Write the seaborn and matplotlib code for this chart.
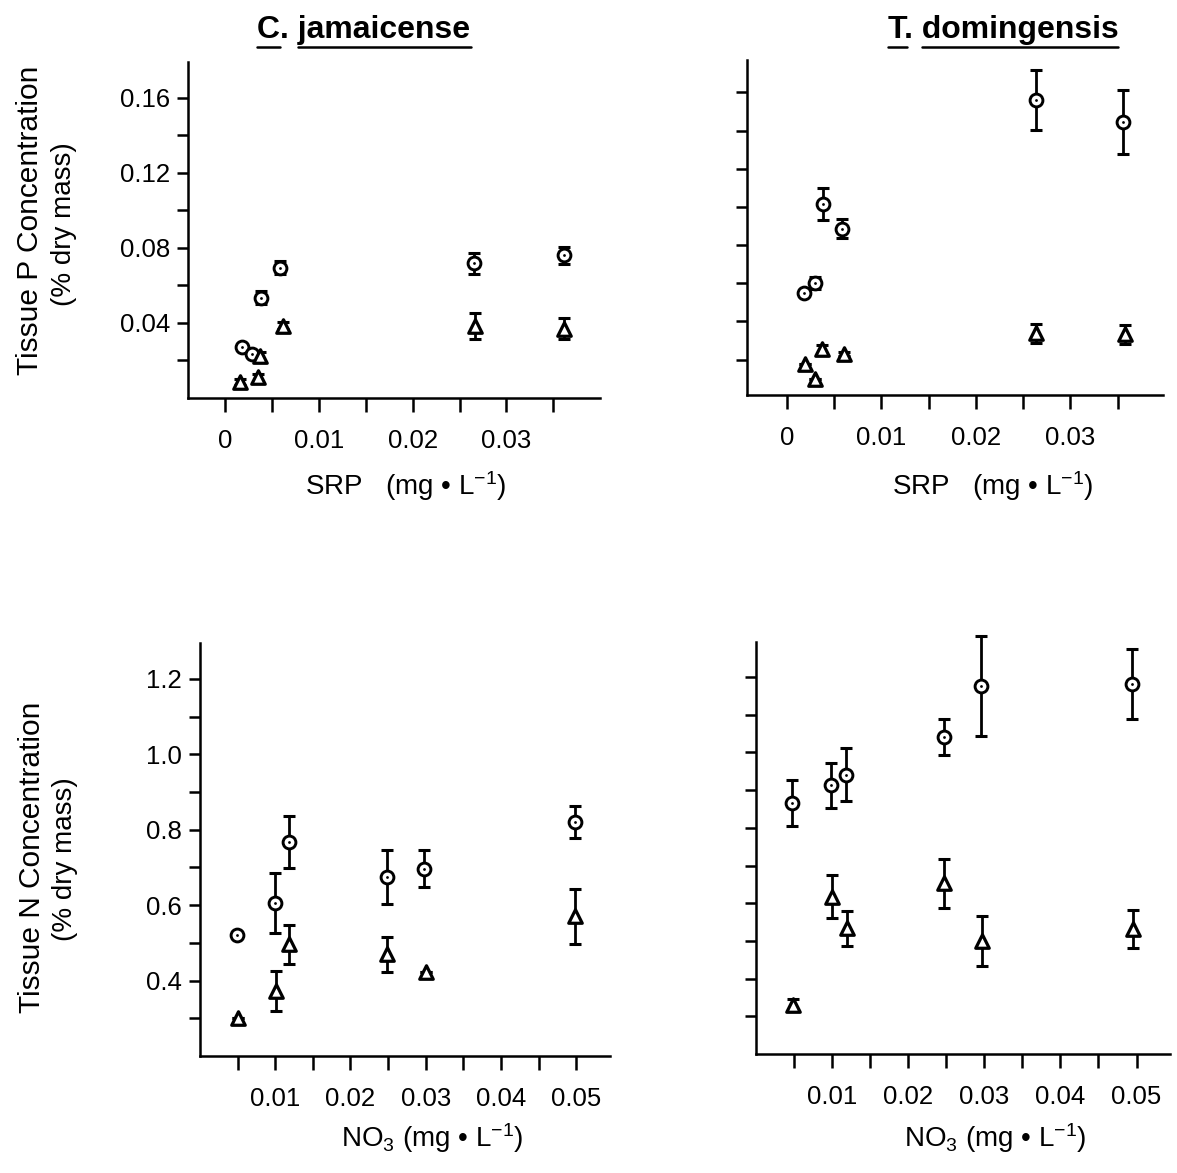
import numpy as np
import matplotlib
matplotlib.use("Agg")
import matplotlib.pyplot as plt
from matplotlib.lines import Line2D
import seaborn as sns

# --- data -----------------------------------------------------------------
# top row: tissue P vs SRP
cj_p_circ_x = [0.0018, 0.0028, 0.0038, 0.0058, 0.0265, 0.0362]
cj_p_circ_y = [0.027, 0.0234, 0.0535, 0.0695, 0.0717, 0.076]
cj_p_circ_e = [0.0, 0.0, 0.0035, 0.0035, 0.0055, 0.0045]
cj_p_tri_x = [0.0016, 0.0035, 0.0037, 0.0061, 0.0267, 0.0362]
cj_p_tri_y = [0.0085, 0.011, 0.0225, 0.0385, 0.0385, 0.037]
cj_p_tri_e = [0.0015, 0.002, 0.002, 0.002, 0.007, 0.0055]

td_p_circ_x = [0.0018, 0.0030, 0.0038, 0.0059, 0.0264, 0.0356]
td_p_circ_y = [0.055, 0.060, 0.1015, 0.0885, 0.156, 0.1445]
td_p_circ_e = [0.0, 0.003, 0.0083, 0.005, 0.0157, 0.0167]
td_p_tri_x = [0.0019, 0.0030, 0.0037, 0.0061, 0.0264, 0.0358]
td_p_tri_y = [0.0176, 0.0097, 0.0255, 0.0228, 0.0337, 0.0333]
td_p_tri_e = [0.0, 0.0, 0.002, 0.001, 0.005, 0.005]

# bottom row: tissue N vs NO3
cj_n_circ_x = [0.0049, 0.0100, 0.0118, 0.0249, 0.0298, 0.0498]
cj_n_circ_y = [0.521, 0.605, 0.767, 0.675, 0.697, 0.820]
cj_n_circ_e = [0.0, 0.079, 0.068, 0.071, 0.048, 0.042]
cj_n_tri_x = [0.0051, 0.0101, 0.0118, 0.0249, 0.0300, 0.0499]
cj_n_tri_y = [0.300, 0.372, 0.496, 0.470, 0.423, 0.571]
cj_n_tri_e = [0.0, 0.054, 0.052, 0.046, 0.0, 0.073]

td_n_circ_x = [0.0047, 0.0098, 0.0118, 0.0247, 0.0296, 0.0494]
td_n_circ_y = [0.866, 0.913, 0.941, 1.041, 1.176, 1.1825]
td_n_circ_e = [0.061, 0.060, 0.071, 0.047, 0.132, 0.093]
td_n_tri_x = [0.0049, 0.00995, 0.0119, 0.0247, 0.0297, 0.0496]
td_n_tri_y = [0.330, 0.617, 0.533, 0.653, 0.500, 0.531]
td_n_tri_e = [0.015, 0.057, 0.046, 0.065, 0.066, 0.050]

srp_ticks = [0, 0.01, 0.02, 0.03]
srp_ticklabels = ["0", "0.01", "0.02", "0.03"]
srp_minor = [0.005, 0.015, 0.025, 0.035]
no3_ticks = [0.01, 0.02, 0.03, 0.04, 0.05]
no3_ticklabels = ["0.01", "0.02", "0.03", "0.04", "0.05"]
no3_minor = [0.005, 0.015, 0.025, 0.035, 0.045]
p_ticks = [0.04, 0.08, 0.12, 0.16]
p_ticklabels = ["0.04", "0.08", "0.12", "0.16"]
p_minor = [0.02, 0.06, 0.10, 0.14]
n_ticks = [0.4, 0.6, 0.8, 1.0, 1.2]
n_ticklabels = ["0.4", "0.6", "0.8", "1.0", "1.2"]
n_minor = [0.3, 0.5, 0.7, 0.9, 1.1]

sns.set_style("ticks")
plt.rcParams["font.family"] = ["Liberation Sans", "DejaVu Sans"]
plt.rcParams["mathtext.fontset"] = "custom"
plt.rcParams["mathtext.rm"] = "Liberation Sans"
plt.rcParams["mathtext.it"] = "Liberation Sans"
plt.rcParams["mathtext.bf"] = "Liberation Sans:bold"
for key in ["text.color", "axes.labelcolor", "xtick.color", "ytick.color",
            "axes.edgecolor"]:
    plt.rcParams[key] = "black"

W, H = 1177, 1173
fig = plt.figure(figsize=(W / 100, H / 100), dpi=100)


def px_axes(l, r, t, b):
    return fig.add_axes([l / W, 1 - b / H, (r - l) / W, (b - t) / H])


ax_tl = px_axes(188, 600, 62, 398)
ax_tr = px_axes(747, 1163, 60, 395)
ax_bl = px_axes(200, 610, 643, 1056)
ax_br = px_axes(756, 1170, 642, 1054)


def draw_series(ax, x, y, e, kind):
    ax.errorbar(x, y, yerr=e, fmt="none", ecolor="black", elinewidth=2.0,
                capsize=4.5, capthick=2.2, zorder=2, clip_on=False)
    if kind == "circle":
        sns.scatterplot(x=x, y=y, ax=ax, marker="o", s=85, color="white",
                        edgecolor="black", linewidth=2.1, zorder=3, clip_on=False)
        sns.scatterplot(x=x, y=y, ax=ax, marker="o", s=4, color="black",
                        edgecolor="black", linewidth=0, zorder=4, clip_on=False)
    else:
        sns.scatterplot(x=x, y=y, ax=ax, marker="^", s=95, color="white",
                        edgecolor="black", linewidth=2.3, zorder=3, clip_on=False)


def style_axis(ax, xlim, ylim, xt, xtl, xmin, yt, ytl, ymin):
    ax.set_xlim(*xlim)
    ax.set_ylim(*ylim)
    ax.set_xticks(xt)
    ax.set_xticklabels(xtl)
    ax.set_xticks(xmin, minor=True)
    ax.set_yticks(yt)
    ax.set_yticklabels(ytl)
    ax.set_yticks(ymin, minor=True)
    sns.despine(ax=ax)
    for s in ["left", "bottom"]:
        ax.spines[s].set_linewidth(1.8)
        ax.spines[s].set_color("black")
    ax.tick_params(which="both", direction="out", length=8, width=1.8,
                   color="black", labelcolor="black", labelsize=18.5, pad=5)
    ax.tick_params(axis="x", which="both", length=10, pad=12)


draw_series(ax_tl, cj_p_circ_x, cj_p_circ_y, cj_p_circ_e, "circle")
draw_series(ax_tl, cj_p_tri_x, cj_p_tri_y, cj_p_tri_e, "tri")
draw_series(ax_tr, td_p_circ_x, td_p_circ_y, td_p_circ_e, "circle")
draw_series(ax_tr, td_p_tri_x, td_p_tri_y, td_p_tri_e, "tri")
draw_series(ax_bl, cj_n_circ_x, cj_n_circ_y, cj_n_circ_e, "circle")
draw_series(ax_bl, cj_n_tri_x, cj_n_tri_y, cj_n_tri_e, "tri")
draw_series(ax_br, td_n_circ_x, td_n_circ_y, td_n_circ_e, "circle")
draw_series(ax_br, td_n_tri_x, td_n_tri_y, td_n_tri_e, "tri")

style_axis(ax_tl, (-0.004, 0.040), (0, 0.179), srp_ticks, srp_ticklabels, srp_minor,
           p_ticks, p_ticklabels, p_minor)
style_axis(ax_tr, (-0.0042, 0.0398), (0.0014, 0.177), srp_ticks, srp_ticklabels, srp_minor,
           p_ticks, [""] * len(p_ticks), p_minor)
style_axis(ax_bl, (0, 0.0545), (0.2, 1.295), no3_ticks, no3_ticklabels, no3_minor,
           n_ticks, n_ticklabels, n_minor)
style_axis(ax_br, (0, 0.0544), (0.2, 1.293), no3_ticks, no3_ticklabels, no3_minor,
           n_ticks, [""] * len(n_ticks), n_minor)
for ax in (ax_tl, ax_tr, ax_bl, ax_br):
    ax.set_xlabel("")
    ax.set_ylabel("")


def ftext(x, y, s, **kw):
    return fig.text(x / W, 1 - y / H, s, color="black", **kw)


# axis labels
ftext(30, 220, "Tissue P Concentration", rotation=90, ha="center", va="center", fontsize=21.5)
ftext(64, 224, "(% dry mass)", rotation=90, ha="center", va="center", fontsize=20)
ftext(32, 857, "Tissue N Concentration", rotation=90, ha="center", va="center", fontsize=21.5)
ftext(65, 859, "(% dry mass)", rotation=90, ha="center", va="center", fontsize=20)

srp_label = "SRP   (mg \u2022 L$^{-1}$)"
no3_label = "NO$_3$ (mg \u2022 L$^{-1}$)"
ftext(406, 486, srp_label, ha="center", va="center", fontsize=20)
ftext(993, 486, srp_label, ha="center", va="center", fontsize=20)
ftext(432, 1138, no3_label, ha="center", va="center", fontsize=20)
ftext(995, 1138, no3_label, ha="center", va="center", fontsize=20)

# underlined species titles
fig.canvas.draw()
renderer = fig.canvas.get_renderer()


def underlined_title(cx, base_y, first, rest):
    t = ftext(cx, base_y, first + ". " + rest, ha="center", va="baseline",
              fontsize=23, fontweight="bold")
    fp = t.get_fontproperties()
    bb = t.get_window_extent(renderer)
    w_first = renderer.get_text_width_height_descent(first, fp, ismath=False)[0]
    w_rest = renderer.get_text_width_height_descent(rest, fp, ismath=False)[0]
    uy = (H - base_y - 9) / H
    for x0, x1 in [(bb.x0, bb.x0 + w_first), (bb.x1 - w_rest, bb.x1)]:
        fig.add_artist(Line2D([x0 / W, x1 / W], [uy, uy], transform=fig.transFigure,
                              color="black", linewidth=1.8))


underlined_title(364, 38, "C", "jamaicense")
underlined_title(1003, 38, "T", "domingensis")

fig.savefig("out.png", dpi=100)
